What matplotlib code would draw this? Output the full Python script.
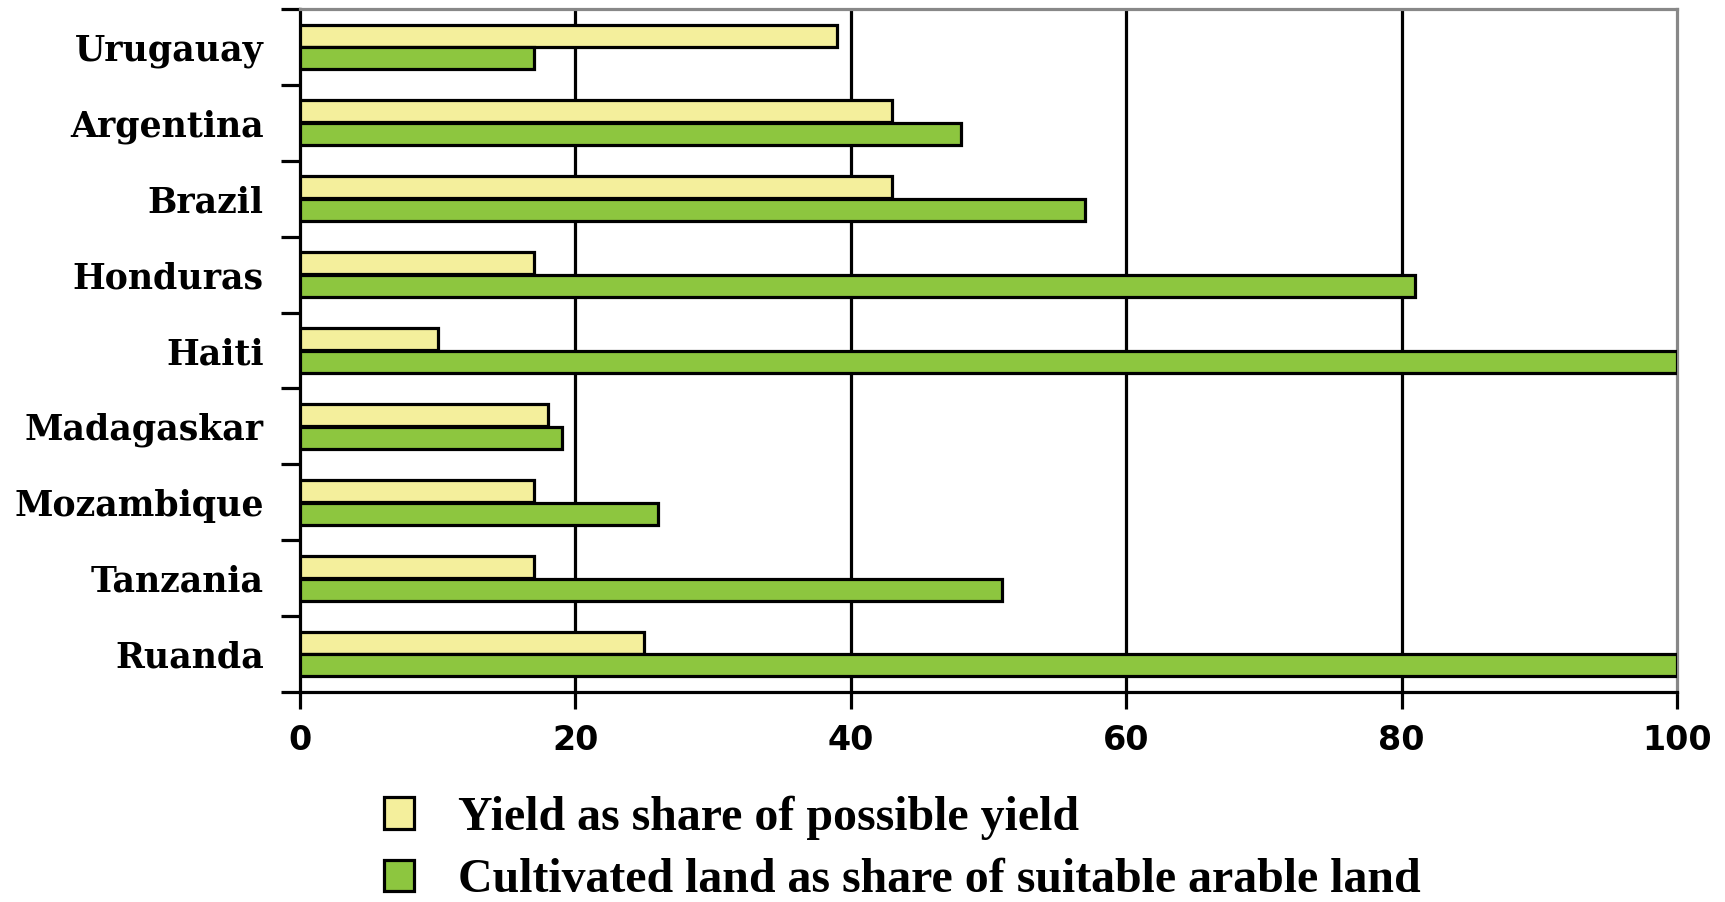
import matplotlib
matplotlib.use("Agg")
import matplotlib.pyplot as plt
import numpy as np
from matplotlib.patches import Patch

# countries listed bottom to top
countries = ["Ruanda", "Tanzania", "Mozambique", "Madagaskar", "Haiti",
             "Honduras", "Brazil", "Argentina", "Urugauay"]
yield_share = [25, 17, 17, 18, 10, 17, 43, 43, 39]
land_share = [100, 51, 26, 19, 100, 81, 57, 48, 17]

x_ticks = [0, 20, 40, 60, 80, 100]
legend_labels = ["Yield as share of possible yield",
                 "Cultivated land as share of suitable arable land"]

YELLOW = "#f4ef9c"
GREEN = "#8dc63f"

fig = plt.figure(figsize=(17.25, 9.02), dpi=100)
ax = fig.add_axes([0.1739, 0.2328, 0.7983, 0.7572])

y = np.arange(len(countries))
h = 0.29
ax.barh(y + 0.15, yield_share, height=h, color=YELLOW, edgecolor="black",
        linewidth=2.3, zorder=3)
ax.barh(y - 0.15, land_share, height=h, color=GREEN, edgecolor="black",
        linewidth=2.3, zorder=3)

ax.set_xlim(0, 100)
ax.set_ylim(-0.5, len(countries) - 0.5)

# vertical grid lines at 20..80, the 100 line is the grey frame
for xv in x_ticks[1:-1]:
    ax.axvline(xv, color="black", linewidth=2.3, zorder=1)

ax.set_xticks(x_ticks)
ax.set_xticklabels([str(v) for v in x_ticks], fontfamily="DejaVu Sans",
                   fontweight="bold", fontsize=24)
ax.tick_params(axis="x", direction="out", length=12, width=2.3, pad=11)

# category labels between the group separators
ax.set_yticks(np.arange(-0.5, len(countries), 1.0))
ax.set_yticklabels([])
ax.set_yticks(y, minor=True)
ax.set_yticklabels(countries, minor=True, fontfamily="DejaVu Serif",
                   fontweight="bold", fontsize=25)
ax.tick_params(axis="y", which="major", direction="out", length=14, width=2.3)
ax.tick_params(axis="y", which="minor", length=0, pad=26)

ax.spines["left"].set_linewidth(2.3)
ax.spines["bottom"].set_linewidth(2.3)
ax.spines["top"].set_color("#888888")
ax.spines["right"].set_color("#888888")
ax.spines["top"].set_linewidth(2.3)
ax.spines["right"].set_linewidth(2.3)

handles = [Patch(facecolor=YELLOW, edgecolor="black", linewidth=2.3),
           Patch(facecolor=GREEN, edgecolor="black", linewidth=2.3)]
fig.legend(handles, legend_labels, loc="center left",
           bbox_to_anchor=(0.203, 0.059), frameon=False,
           handlelength=0.63, handleheight=0.63, handletextpad=0.92,
           labelspacing=0.38, borderpad=0.2,
           prop={"family": "Liberation Serif", "weight": "bold", "size": 34.5})

fig.savefig("out.png", dpi=100, facecolor="white")
